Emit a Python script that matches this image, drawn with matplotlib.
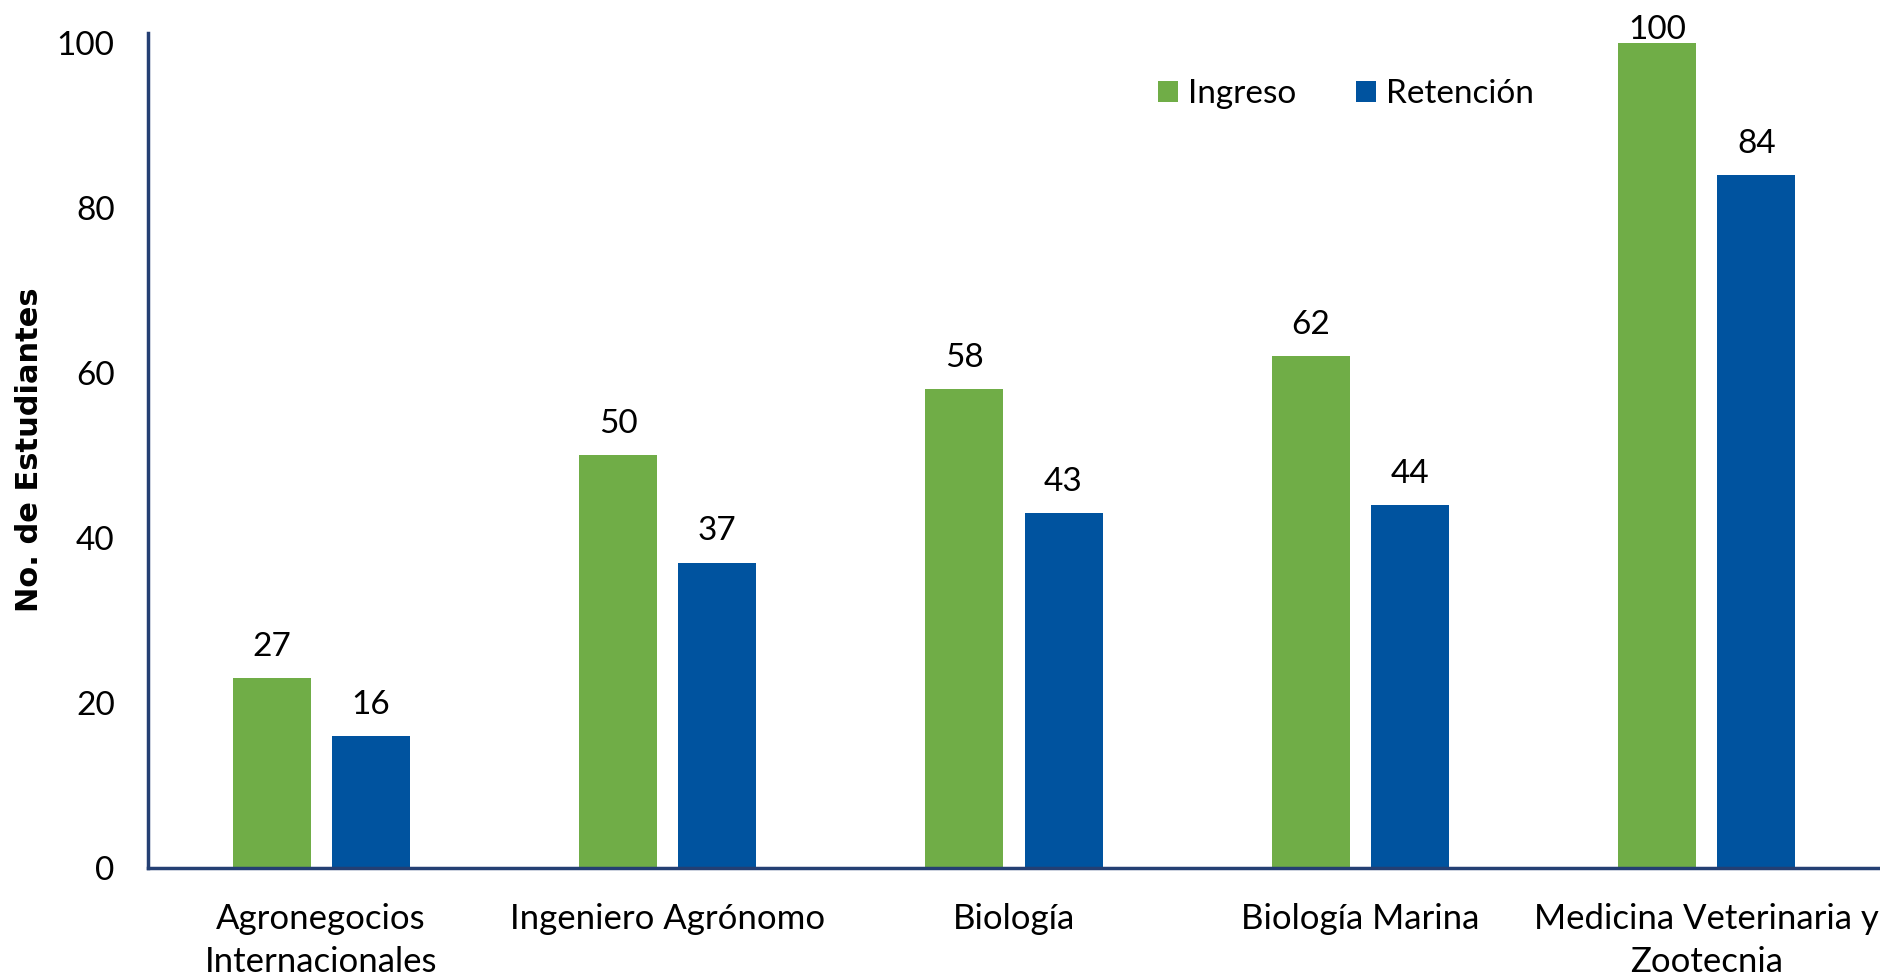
import matplotlib
matplotlib.use("Agg")
import matplotlib.pyplot as plt
import numpy as np

categories = [
    "Agronegocios\nInternacionales",
    "Ingeniero Agrónomo",
    "Biología",
    "Biología Marina",
    "Medicina Veterinaria y\nZootecnia",
]
# bar heights as drawn in the source chart
ingreso = [23, 50, 58, 62, 100]
retencion = [16, 37, 43, 44, 84]
# value labels printed above the bars
ingreso_labels = ["27", "50", "58", "62", "100"]
retencion_labels = ["16", "37", "43", "44", "84"]

GREEN = "#70AD47"
BLUE = "#00539F"
NAVY = "#243F73"

plt.rcParams["font.family"] = ["Lato", "DejaVu Sans"]

fig = plt.figure(figsize=(18.8, 9.76), dpi=100)
ax = fig.add_axes([148 / 1880, 1 - 868 / 976, 1 - 148 / 1880, (868 - 33) / 976])

x = np.arange(len(categories))
w = 0.225
off = 0.143
b1 = ax.bar(x - off, ingreso, w, color=GREEN, label="Ingreso", zorder=2)
b2 = ax.bar(x + off, retencion, w, color=BLUE, label="Retención", zorder=2)

for bars, labels in ((b1, ingreso_labels), (b2, retencion_labels)):
    for rect, lab in zip(bars, labels):
        h = rect.get_height()
        # label of the tallest bar is pushed down so it stays on the slide
        dy = 3 if h >= 95 else 16
        ax.annotate(lab, (rect.get_x() + rect.get_width() / 2, h),
                    xytext=(0, dy), textcoords="offset points",
                    ha="center", va="baseline", fontsize=24, color="black")

ax.set_xlim(-0.5, 4.5)
ax.set_ylim(0, 101.2)
ax.set_yticks([0, 20, 40, 60, 80, 100])
ax.set_xticks(x)
ax.set_xticklabels(categories, linespacing=1.45)
ax.tick_params(axis="both", length=0, colors="black")
ax.tick_params(axis="y", pad=24, labelsize=24)
ax.tick_params(axis="x", pad=25, labelsize=25)

for s in ("top", "right"):
    ax.spines[s].set_visible(False)
for s in ("left", "bottom"):
    ax.spines[s].set_color(NAVY)
    ax.spines[s].set_linewidth(2.5)

fig.text(30 / 1880, 1 - 450 / 976, "No. de Estudiantes", rotation=90,
         ha="center", va="center", fontsize=22, fontweight="bold",
         family="DejaVu Sans")

fig.legend(handles=[b1, b2], loc="center left",
           bbox_to_anchor=(1158 / 1880, 1 - 94 / 976), ncol=2, frameon=False,
           fontsize=24, handlelength=0.6, handleheight=0.6, handletextpad=0.3,
           columnspacing=1.8, borderpad=0, borderaxespad=0)

fig.savefig("out.png", dpi=100)
